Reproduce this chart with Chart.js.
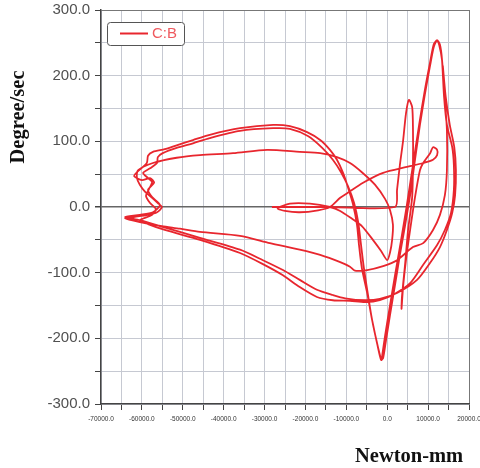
<!DOCTYPE html>
<html>
<head>
<meta charset="utf-8">
<title>C:B phase plot</title>
<script src="https://cdn.jsdelivr.net/npm/chart.js@4.4.1/dist/chart.umd.min.js"></script>
<style>
    html, body { margin: 0; padding: 0; background: #ffffff; }
    #phaseChart { display: block; }
</style>
</head>
<body>
<canvas id="phaseChart" width="480" height="468"></canvas>
<script>
// Series label + axis titles
const seriesLabel = 'C:B';
const xTitle = 'Newton-mm';
const yTitle = 'Degree/sec';

// Axis ranges / tick steps
const xRange = [-70000, 20000];
const yRange = [-300, 300];
const xStep = 5000;
const yStep = 50;
const xLabelEvery = 10000;
const yLabelEvery = 100;

// Moment (Newton-mm)
const momentNmm = [
    -28200, -14000, 1900,
    2400, 3100, 3900, 4600, 5300,
    6100, 6300, 6300, 6100, 5100, 4400, 3600, 3500,
    3900, 4600, 5600, 6800, 8000, 8800, 10500, 11200, 12200, 12200, 11200, 8800,
    4800, -1000, -5900, -9800, -11500, -14000,
    -16900, -21400, -25000, -26800, -23800, -18900, -14000,
    -11500, -8600, -6200, -3500, -1500, 0,
    700, 1200, 1400, 700, -500, -3000, -6200, -9100, -12300, -16400,
    -21400, -29400, -37700, -45800, -51500, -57300, -60900,
    -61200, -60500, -59200, -57500, -56100, -55100, -56300, -58500, -61700, -64100,
    -60500, -55100, -50700, -45800, -36000, -28700, -21400, -16400, -11500, -9100, -7900, -4900, -1000, 2400, 6300, 8800,
    11200, 12900, 14100, 14600, 14600, 14100, 13400, 12700, 12200,
    11400, 10500, 9200, 8000, 6800, 5600, 4400, 3100, 1900, 700, -300, -1000, -1500,
    -2400, -3700, -4700, -5700, -6400, -7100, -8100, -9600, -11300, -13300, -15900, -19400, -23800, -27900, -36000, -43400, -47500, -51500, -54900, -56100, -56300, -58000, -59700,
    -58500, -57500, -58300, -59000, -58000, -56600, -57500, -60500, -58500, -54400,
    -45800, -36000, -30400, -25500, -21400, -17200, -13300, -9100, -5400, -1800, 1900, 5600, 8800, 12200, 14100, 15600, 16300, 16300, 15900, 14600, 13900, 13400, 12900, 12200,
    11400, 10500, 9200, 7800, 6300, 4800, 3400, 1900, 700, -500, -1200, -1400,
    -2200, -3700, -4900, -6200, -6900, -7400, -8400, -9600, -10800, -12300, -14000, -16400, -19600, -23800, -27900, -36000, -43400, -47500, -51500, -54400, -57300, -58500, -58800, -61200,
    -61900, -60000, -58000, -57000, -58500, -57500, -55600, -57300, -60500, -64100,
    -60500, -55600, -45800, -36000, -30400, -25500, -21400, -17200, -13300, -10300, -5400, -1800, 2400, 7300, 10500, 12900, 14600, 15900, 16600, 16800, 16400, 15300, 14300, 13600
];

// Angular velocity (Degree/sec), same order as momentNmm
const velocityDegSec = [
    0, 0, 0,
    26, 64, 102, 143, 163,
    152, 117, 67, 15, -35, -85, -137, -155,
    -120, -80, -35, 15, 56, 67, 82, 91, 87, 79, 72, 67,
    61, 52, 37, 21, 14, 0,
    -5, -8, -6, -2, 5, 5, 0,
    -6, -18, -29, -50, -67, -81,
    -69, -50, -27, -5, 12, 34, 53, 67, 76, 82,
    84, 87, 82, 79, 75, 67, 56,
    44, 34, 23, 14, 6, 0, -8, -12, -15, -17,
    -23, -29, -33, -38, -44, -55, -65, -73, -84, -91, -97, -96, -90, -81, -61, -55,
    -35, -12, 18, 56, 117, 163, 224, 247, 254,
    244, 216, 171, 125, 72, 18, -27, -73, -119, -164, -203, -230, -233,
    -210, -172, -134, -93, -58, -23, 6, 32, 53, 72, 90, 108, 119, 120, 116, 105, 97, 90, 82, 76, 67, 59, 52,
    44, 38, 27, 17, 6, -3, -12, -20, -26, -35,
    -50, -70, -87, -104, -122, -137, -142, -143, -145, -142, -132, -116, -88, -58, -35, -9, 26, 64, 91, 125, 168, 224, 247, 254,
    248, 221, 178, 125, 64, 3, -50, -104, -149, -195, -225, -233,
    -215, -172, -131, -93, -58, -27, 5, 30, 52, 72, 87, 102, 114, 123, 125, 120, 110, 102, 94, 88, 84, 78, 67, 53,
    47, 41, 44, 37, 26, 15, 3, -8, -12, -15,
    -20, -29, -47, -65, -81, -96, -111, -126, -134, -139, -142, -140, -131, -111, -85, -61, -35, -9, 18, 56, 91, 125, 168, 215
];

const lineRed = '#e8262e';

function buildPoints() {
    const n = Math.min(momentNmm.length, velocityDegSec.length);
    if (momentNmm.length !== velocityDegSec.length) {
        console.log('length mismatch', momentNmm.length, velocityDegSec.length);
    }
    const pts = [];
    for (let i = 0; i < n; i++) {
        pts.push({ x: momentNmm[i], y: velocityDegSec[i] });
    }
    return pts;
}

// axis titles + boxed legend, drawn on top
const decorPlugin = {
    id: 'decor',
    afterDraw(chart) {
        const ctx = chart.ctx;
        ctx.save();

        // y title (rotated)
        ctx.font = 'bold 20.5px "Liberation Serif", "Times New Roman", serif';
        ctx.fillStyle = '#111111';
        ctx.textAlign = 'center';
        ctx.textBaseline = 'alphabetic';
        ctx.translate(24, 117);
        ctx.rotate(-Math.PI / 2);
        ctx.fillText(yTitle, 0, 0);
        ctx.setTransform(1, 0, 0, 1, 0, 0);

        // x title
        ctx.textAlign = 'left';
        ctx.fillText(xTitle, 355, 462);

        // legend box
        const bx = 107.5, by = 22.5, bw = 77, bh = 23, r = 3;
        ctx.beginPath();
        ctx.moveTo(bx + r, by);
        ctx.lineTo(bx + bw - r, by);
        ctx.quadraticCurveTo(bx + bw, by, bx + bw, by + r);
        ctx.lineTo(bx + bw, by + bh - r);
        ctx.quadraticCurveTo(bx + bw, by + bh, bx + bw - r, by + bh);
        ctx.lineTo(bx + r, by + bh);
        ctx.quadraticCurveTo(bx, by + bh, bx, by + bh - r);
        ctx.lineTo(bx, by + r);
        ctx.quadraticCurveTo(bx, by, bx + r, by);
        ctx.closePath();
        ctx.fillStyle = '#ffffff';
        ctx.fill();
        ctx.strokeStyle = '#555555';
        ctx.lineWidth = 1;
        ctx.stroke();

        ctx.beginPath();
        ctx.moveTo(120, 33.5);
        ctx.lineTo(148, 33.5);
        ctx.strokeStyle = lineRed;
        ctx.lineWidth = 2;
        ctx.stroke();

        ctx.font = '15px "Liberation Sans", Arial, sans-serif';
        ctx.fillStyle = '#ef5a5f';
        ctx.textBaseline = 'middle';
        ctx.fillText(seriesLabel, 152, 34);

        ctx.restore();
    }
};

function gridColor(ctx, lim) {
    const v = ctx.tick ? ctx.tick.value : null;
    if (v === 0 && lim === 'y') return '#666666';
    if (v === xRange[1] && lim === 'x') return '#777777';
    if (v === yRange[1] && lim === 'y') return '#777777';
    return '#c6c9d2';
}

function initChart() {
    const canvas = document.getElementById('phaseChart');
    new Chart(canvas, {
        type: 'scatter',
        data: {
            datasets: [{
                label: seriesLabel,
                data: buildPoints(),
                showLine: true,
                borderColor: lineRed,
                borderWidth: 1.8,
                pointRadius: 0,
                tension: 0.25,
                fill: false
            }]
        },
        options: {
            responsive: false,
            animation: false,
            devicePixelRatio: 1,
            layout: { padding: { top: 10, right: 11, left: 0, bottom: 0 } },
            plugins: {
                legend: { display: false },
                tooltip: { enabled: false }
            },
            scales: {
                x: {
                    type: 'linear',
                    min: xRange[0],
                    max: xRange[1],
                    afterFit: (scale) => {
                        scale.height = 64;
                        scale.paddingLeft = 0;
                        scale.paddingRight = 0;
                    },
                    ticks: {
                        stepSize: xStep,
                        autoSkip: false,
                        maxRotation: 0,
                        padding: 5,
                        color: '#333333',
                        font: { family: '"Liberation Sans", Arial, sans-serif', size: 6.5 },
                        callback: (v) => (v % xLabelEvery === 0 ? v.toFixed(1) : '')
                    },
                    grid: {
                        color: (ctx) => gridColor(ctx, 'x'),
                        tickColor: '#444444',
                        tickLength: 6
                    },
                    border: { color: '#444444', width: 1.5 }
                },
                y: {
                    min: yRange[0],
                    max: yRange[1],
                    afterFit: (scale) => {
                        scale.width = 101;
                        scale.paddingTop = 0;
                        scale.paddingBottom = 0;
                    },
                    ticks: {
                        stepSize: yStep,
                        padding: 5,
                        color: '#505050',
                        font: { family: '"Liberation Sans", Arial, sans-serif', size: 15 },
                        callback: (v) => (v % yLabelEvery === 0 ? v.toFixed(1) : '')
                    },
                    grid: {
                        color: (ctx) => gridColor(ctx, 'y'),
                        lineWidth: (ctx) => (ctx.tick && ctx.tick.value === 0 ? 1.5 : 1),
                        tickColor: '#444444',
                        tickLength: 6
                    },
                    border: { color: '#444444', width: 1.5 }
                }
            }
        },
        plugins: [decorPlugin]
    });
}

document.addEventListener('DOMContentLoaded', function() {
    initChart();
});
</script>
</body>
</html>
